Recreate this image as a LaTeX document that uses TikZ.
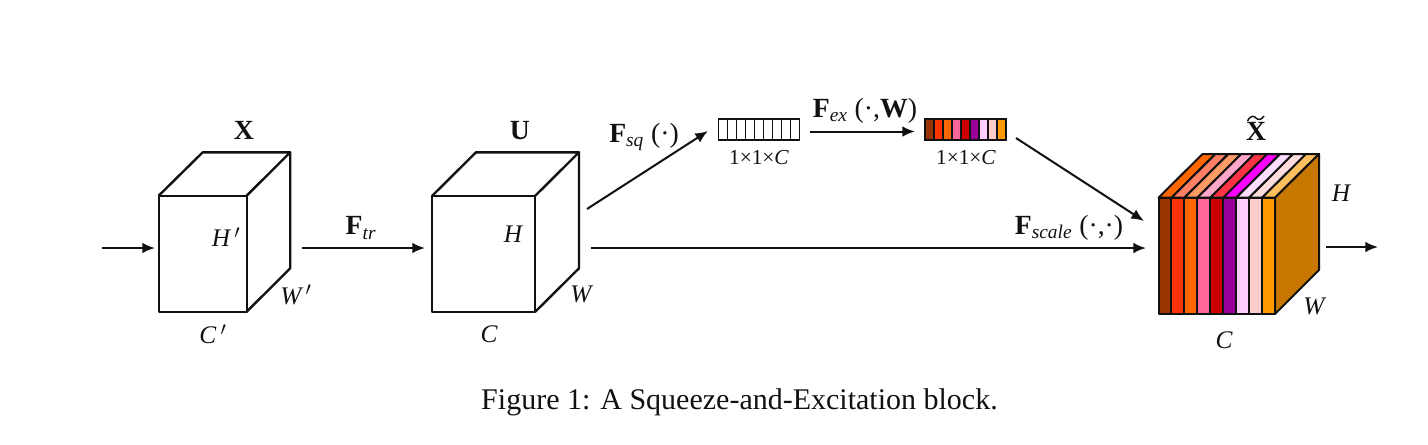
\documentclass[tikz,border=0pt]{standalone}
\usepackage{fontspec}
\setmainfont{Liberation Serif}
\usetikzlibrary{arrows.meta}
\definecolor{f1}{HTML}{993300}\definecolor{f2}{HTML}{FF3300}\definecolor{f3}{HTML}{FF6600}
\definecolor{f4}{HTML}{FF6699}\definecolor{f5}{HTML}{CC0000}\definecolor{f6}{HTML}{990099}
\definecolor{f7}{HTML}{FFCCFF}\definecolor{f8}{HTML}{FFCCCC}\definecolor{f9}{HTML}{FF9900}
\definecolor{t1}{HTML}{FF6600}\definecolor{t2}{HTML}{FF8066}\definecolor{t3}{HTML}{FF9966}
\definecolor{t4}{HTML}{FFA6C9}\definecolor{t5}{HTML}{FF3344}\definecolor{t6}{HTML}{FF00FF}
\definecolor{t7}{HTML}{FFDDFF}\definecolor{t8}{HTML}{FFDDDD}\definecolor{t9}{HTML}{FFC060}
\definecolor{sidec}{HTML}{C87800}
\definecolor{inkc}{HTML}{111111}
\newcommand{\subt}[1]{\textsubscript{\textit{#1}}}
\tikzset{
  edge/.style={line width=1.8pt,draw=inkc,line join=round},
  stripe/.style={line width=1.5pt,draw=inkc,line join=round},
  conn/.style={line width=1.5pt,draw=inkc,-{Latex[length=9.5pt,width=8pt]}},
  thincell/.style={line width=1.2pt,draw=inkc},
  lab/.style={font=\fontsize{19}{21}\selectfont\itshape,text=inkc,inner sep=0pt},
  blab/.style={font=\fontsize{20.8}{23}\selectfont,text=inkc,inner sep=0pt},
  dimlab/.style={font=\fontsize{16}{18}\selectfont,text=inkc,inner sep=0pt},
  caplab/.style={font=\fontsize{22.5}{26}\selectfont,text=inkc,inner sep=0pt},
}
\begin{document}
\begin{tikzpicture}[x=0.75pt,y=-0.75pt]
\useasboundingbox (0,0) rectangle (1428,444);
% cube X
\draw[edge] (158.7,195.7) rectangle (246.7,311.7);
\draw[edge] (158.7,195.7) -- (202.7,152.3) -- (290.2,152.3) -- (246.7,195.7);
\draw[edge] (290.2,152.3) -- (290.2,268.3) -- (246.7,311.7);
% cube U
\draw[edge] (432,196) rectangle (535,312);
\draw[edge] (432,196) -- (476,152.3) -- (579,152.3) -- (535,196);
\draw[edge] (579,152.3) -- (579,268.3) -- (535,312);
% cube X tilde: top
\foreach \i/\c in {0/t1,1/t2,2/t3,3/t4,4/t5,5/t6,6/t7,7/t8,8/t9}{
  \pgfmathsetmacro{\xa}{1158.5+\i*12.94}
  \pgfmathsetmacro{\xb}{\xa+12.94}
  \draw[stripe,fill=\c] (\xa,197.7) -- (\xa+44,154) -- (\xb+44,154) -- (\xb,197.7) -- cycle;
}
\draw[stripe,fill=sidec] (1275,197.7) -- (1319,154) -- (1319,270) -- (1275,314) -- cycle;
\foreach \i/\c in {0/f1,1/f2,2/f3,3/f4,4/f5,5/f6,6/f7,7/f8,8/f9}{
  \pgfmathsetmacro{\xa}{1158.5+\i*12.94}
  \draw[stripe,fill=\c] (\xa,197.7) rectangle (\xa+12.94,314);
}
% small vectors
\foreach \i in {0,...,8}{
  \pgfmathsetmacro{\xa}{718.3+\i*9}
  \draw[thincell] (\xa,119) rectangle (\xa+9,140);
}
\foreach \i/\c in {0/f1,1/f2,2/f3,3/f4,4/f5,5/f6,6/f7,7/f8,8/f9}{
  \pgfmathsetmacro{\xa}{925+\i*9}
  \draw[thincell,fill=\c] (\xa,119) rectangle (\xa+9,140);
}
% connector ends
\coordinate (inA) at (102,248); \coordinate (inB) at (155,248);
\coordinate (trA) at (302,248); \coordinate (trB) at (425,248);
\coordinate (sqA) at (587,209); \coordinate (sqB) at (708,131);
\coordinate (exA) at (810,131.5); \coordinate (exB) at (915,131.5);
\coordinate (weA) at (1016,138); \coordinate (weB) at (1144,221);
\coordinate (scA) at (591,248); \coordinate (scB) at (1146,248);
\coordinate (outA) at (1326,247); \coordinate (outB) at (1378,247);
\draw[conn] (inA) -- (inB);
\draw[conn] (trA) -- (trB);
\draw[conn] (sqA) -- (sqB);
\draw[conn] (exA) -- (exB);
\draw[conn] (weA) -- (weB);
\draw[conn] (scA) -- (scB);
\draw[conn] (outA) -- (outB);
% labels
\node[blab] (lx) at (244,130) {\textbf{X}};
\node[blab] (lu) at (520,131) {\textbf{U}};
\node[blab] (lxt) at (1256,131) {\textbf{X}};
\draw[line width=1.1pt,draw=inkc] (1247.5,121) .. controls (1251,114.5) and (1254,116) .. (1256,118) .. controls (1258,120) and (1261,120.5) .. (1264,116);
\node[lab] (hp) at (226,237) {H\,$'$};
\node[lab] (wp) at (296,295) {W\,$'$};
\node[lab] (cp) at (213,334) {C\,$'$};
\node[lab] (h) at (513,234) {H};
\node[lab] (w) at (581,294) {W};
\node[lab] (c) at (489,334) {C};
\node[lab] (ht) at (1341,193) {H};
\node[lab] (wt) at (1314,306) {W};
\node[lab] (ct) at (1224,340) {C};
\node[blab] (ftr) at (361,228) {\textbf{F}\subt{tr}};
\node[blab] (fsq) at (644,137) {\textbf{F}\subt{sq} (·)};
\node[blab] (fex) at (865,111) {\textbf{F}\subt{ex} (·,\textbf{W})};
\node[blab] (fsc) at (1069,228) {\textbf{F}\subt{scale} (·,·)};
\node[dimlab] (d1) at (759,158) {1×1×\textit{C}};
\node[dimlab] (d2) at (966,158) {1×1×\textit{C}};
\node[caplab] (capt) at (739.5,402) {Figure 1: A Squeeze-and-Excitation block.};
\end{tikzpicture}
\end{document}
